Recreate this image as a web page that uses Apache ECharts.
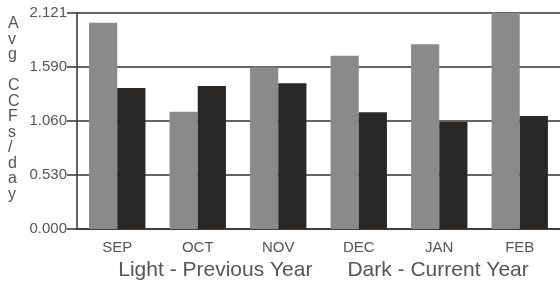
<!DOCTYPE html>
<html>
<head>
<meta charset="utf-8">
<script src="https://cdn.jsdelivr.net/npm/echarts@6/dist/echarts.min.js"></script>
<style>
  html, body { margin: 0; padding: 0; background: #fff; }
  #chart { width: 560px; height: 282px; }
</style>
</head>
<body>
<div id="chart"></div>
<script>
// data
const months = ['SEP', 'OCT', 'NOV', 'DEC', 'JAN', 'FEB'];
const previousYear = [2.026, 1.152, 1.585, 1.700, 1.814, 2.121];
const currentYear = [1.385, 1.405, 1.431, 1.146, 1.050, 1.110];
const yTickLabels = ['0.000', '0.530', '1.060', '1.590', '2.121'];
const yTitle = 'Avg CCFs/day';
const xTitle = 'Light - Previous Year      Dark - Current Year';

const yMax = 2.121;
const yStep = yMax / 4;

const chart = echarts.init(document.getElementById('chart'));

const option = {
    backgroundColor: '#fff',
    animation: false,
    grid: { left: 77, right: 0, top: 13, bottom: 53, containLabel: false, outerBoundsMode: 'none' },
    graphic: [{
        type: 'text',
        left: 8,
        top: 16,
        style: {
            // stacked letters, blank line between words
            text: yTitle.split(' ').map(w => w.split('').join('\n')).join('\n\n'),
            font: '16px "Liberation Sans", Arial, sans-serif',
            fill: '#555',
            lineHeight: 15.5,
            align: 'center'
        }
    }],
    xAxis: {
        type: 'category',
        data: months,
        name: xTitle,
        nameLocation: 'middle',
        nameGap: 30,
        nameTextStyle: {
            color: '#555',
            fontSize: 21,
            fontFamily: '"Liberation Sans", Arial',
            padding: [0, 0, 0, 10]
        },
        axisLine: { lineStyle: { color: '#333', width: 1.5 } },
        axisTick: { alignWithLabel: true, length: 7, lineStyle: { color: '#333', width: 1.5 } },
        axisLabel: { color: '#555', fontSize: 15, margin: 11, fontFamily: '"Liberation Sans", Arial' }
    },
    yAxis: {
        type: 'value',
        min: 0,
        max: yMax,
        interval: yStep,
        axisLine: { show: true, lineStyle: { color: '#333', width: 1.5 } },
        axisTick: { show: true, length: 10, lineStyle: { color: '#333', width: 1.5 } },
        axisLabel: {
            color: '#555',
            fontSize: 15,
            margin: 10,
            fontFamily: '"Liberation Sans", Arial',
            formatter: v => yTickLabels[Math.round(v / yStep)]
        },
        splitLine: { lineStyle: { color: '#333', width: 1.5 } }
    },
    series: [
        {
            name: 'Previous Year',
            type: 'bar',
            data: previousYear,
            barGap: '0%',
            barCategoryGap: '30%',
            itemStyle: { color: '#8a8a8a' }
        },
        {
            name: 'Current Year',
            type: 'bar',
            data: currentYear,
            itemStyle: { color: '#2a2727' }
        }
    ]
};

chart.setOption(option);
</script>
</body>
</html>
